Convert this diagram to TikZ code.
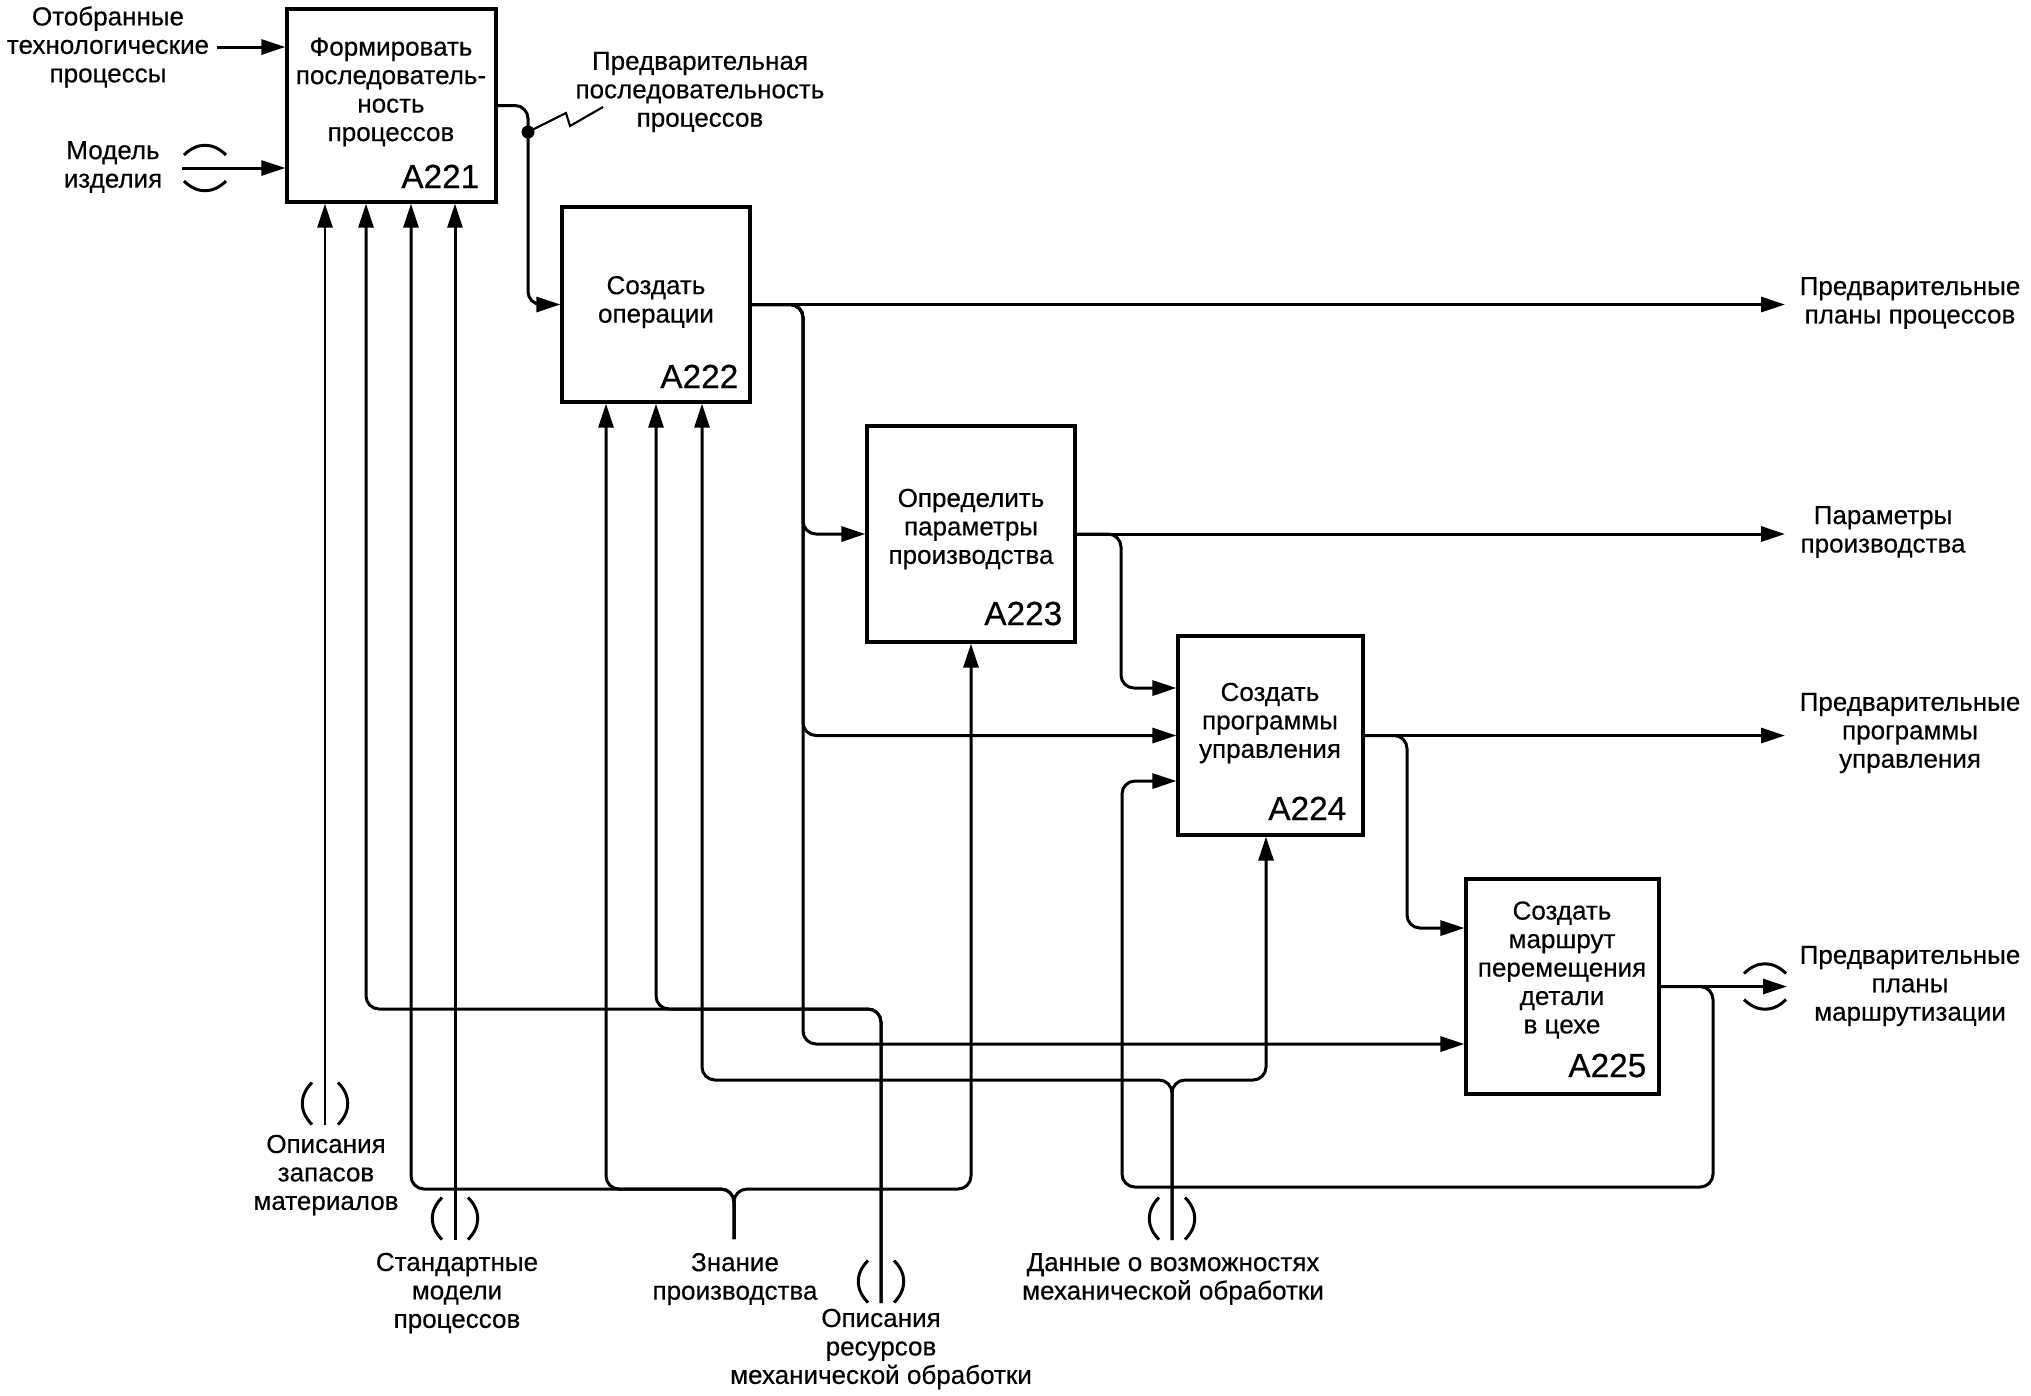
\documentclass[tikz,border=0pt]{standalone}
\usepackage{fontspec}
\setmainfont{Liberation Sans}[FakeBold=0.4]
\usetikzlibrary{arrows.meta}

\tikzset{
  box/.style={draw, line width=0.9pt, inner sep=0pt},
  txt/.style={align=center, inner sep=0pt, font=\fontsize{7.4}{8.1}\selectfont},
  num/.style={anchor=base east, inner sep=0pt, font=\fontsize{9.5}{11}\selectfont},
  flow/.style={line width=0.85pt, rounded corners=1.3mm},
  arr/.style={flow, -{Triangle[length=2.4mm,width=1.5mm]}},
  tun/.pic={
    \draw[line width=0.85pt] (-13,-21) .. controls (-26,-8) and (-26,8) .. (-13,21);
    \draw[line width=0.85pt] (13,-21) .. controls (26,-8) and (26,8) .. (13,21);
  }
}

\begin{document}
\begin{tikzpicture}[x=0.1mm, y=-0.1mm]
  \useasboundingbox (0,0) rectangle (2031,1395);

  % blocks
  \node[box, minimum width=20.9mm, minimum height=19.3mm] (A221) at (391.5,105.5) {};
  \node[box, minimum width=18.8mm, minimum height=19.5mm] (A222) at (656,304.5) {};
  \node[box, minimum width=20.8mm, minimum height=21.6mm] (A223) at (971,534) {};
  \node[box, minimum width=18.5mm, minimum height=19.9mm] (A224) at (1270.5,735.5) {};
  \node[box, minimum width=19.3mm, minimum height=21.5mm] (A225) at (1562.5,986.5) {};

  \node[txt] (t221) at (391,92) {Формировать\\последователь-\\ность\\процессов};
  \node[txt] (t222) at (656,302) {Создать\\операции};
  \node[txt] (t223) at (971,529) {Определить\\параметры\\производства};
  \node[txt] (t224) at (1270,723) {Создать\\программы\\управления};
  \node[txt] (t225) at (1562,970) {Создать\\маршрут\\перемещения\\детали\\в цехе};

  \node[num] (n221) at (480,188) {A221};
  \node[num] (n222) at (739,388) {A222};
  \node[num] (n223) at (1063,625) {A223};
  \node[num] (n224) at (1347,820) {A224};
  \node[num] (n225) at (1647,1077) {A225};

  % inputs of A221
  \coordinate (in1) at (217,47);
  \coordinate (in2) at (182,168);
  \node[txt] (lin1) at (108,47) {Отобранные\\технологические\\процессы};
  \node[txt] (lin2) at (113,167) {Модель\\изделия};
  \draw[arr] (in1) -- (A221.west |- in1);
  \draw[arr] (in2) -- (A221.west |- in2);
  \pic[rotate=90] at (205,168) {tun};

  % A221 -> A222
  \coordinate (dot) at (528,132);
  \draw[arr] (A221.east) -| (dot) |- (A222.west);
  \fill (dot) circle (0.65mm);
  \node[txt] (lseq) at (700,92) {Предварительная\\последовательность\\процессов};
  \draw[line width=0.6pt] (dot) -- (566,113) -- (570,126) -- (603,107);

  % outputs
  \coordinate (j222) at (803,304.5);
  \coordinate (j223) at (1121,534);
  \coordinate (j224) at (1407,735.5);
  \coordinate (out1) at (1785,304.5);
  \coordinate (out2) at (1785,534);
  \coordinate (out3) at (1785,735.5);
  \coordinate (out4) at (1787,986.5);
  \draw[arr] (A222.east) -- (out1);
  \draw[arr] (A222.east) -- (j222) |- (A223.west);
  \draw[arr] (A222.east) -- (j222) |- (A224.west);
  \draw[arr] (A222.east) -- (j222) |- (A225.west |- 0,1044);
  \draw[arr] (A223.east) -- (out2);
  \draw[arr] (A223.east) -- (j223) |- (A224.west |- 0,688);
  \draw[arr] (A224.east) -- (out3);
  \draw[arr] (A224.east) -- (j224) |- (A225.west |- 0,928);
  \draw[arr] (A225.east) -- (out4);
  \pic[rotate=90] at (1765,986.5) {tun};

  % feedback A225 -> A224
  \coordinate (fb) at (1713,1187);
  \draw[arr] (A225.east) -| (fb) -| (1122,781) -- (A224.west |- 0,781);

  \node[txt] (lout1) at (1910,303) {Предварительные\\планы процессов};
  \node[txt] (lout2) at (1883,532) {Параметры\\производства};
  \node[txt] (lout3) at (1910,733) {Предварительные\\программы\\управления};
  \node[txt] (lout4) at (1910,986) {Предварительные\\планы\\маршрутизации};

  % mechanisms and controls
  \coordinate (m1) at (325,1125);
  \coordinate (m2) at (455,1240);
  \coordinate (m3) at (881,1303);
  \coordinate (kn) at (734,1239);
  \coordinate (md) at (1172,1240);
  \draw[arr] (m1) -- (m1 |- A221.south);
  \draw[arr] (m2) -- (m2 |- A221.south);
  \draw[arr] (m3) |- (366,1009) -- (366,0 |- A221.south);
  \draw[arr] (m3) |- (656,1009) -- (656,0 |- A222.south);
  \draw[arr] (kn) |- (411,1189) -- (411,0 |- A221.south);
  \draw[arr] (kn) |- (606,1189) -- (606,0 |- A222.south);
  \draw[arr] (kn) |- (971,1189) -- (971,0 |- A223.south);
  \draw[arr] (md) |- (702,1080) -- (702,0 |- A222.south);
  \draw[arr] (md) |- (1266,1080) -- (1266,0 |- A224.south);
  \pic at (325,1103.5) {tun};
  \pic at (455,1218.5) {tun};
  \pic at (881,1281.5) {tun};
  \pic at (1172,1218.5) {tun};

  \node[txt] (lm1) at (326,1175) {Описания\\запасов\\материалов};
  \node[txt] (lm2) at (457,1293) {Стандартные\\модели\\процессов};
  \node[txt] (lkn) at (735,1279) {Знание\\производства};
  \node[txt] (lm3) at (881,1349) {Описания\\ресурсов\\механической обработки};
  \node[txt] (lmd) at (1173,1279) {Данные о возможностях\\механической обработки};
\end{tikzpicture}
\end{document}
